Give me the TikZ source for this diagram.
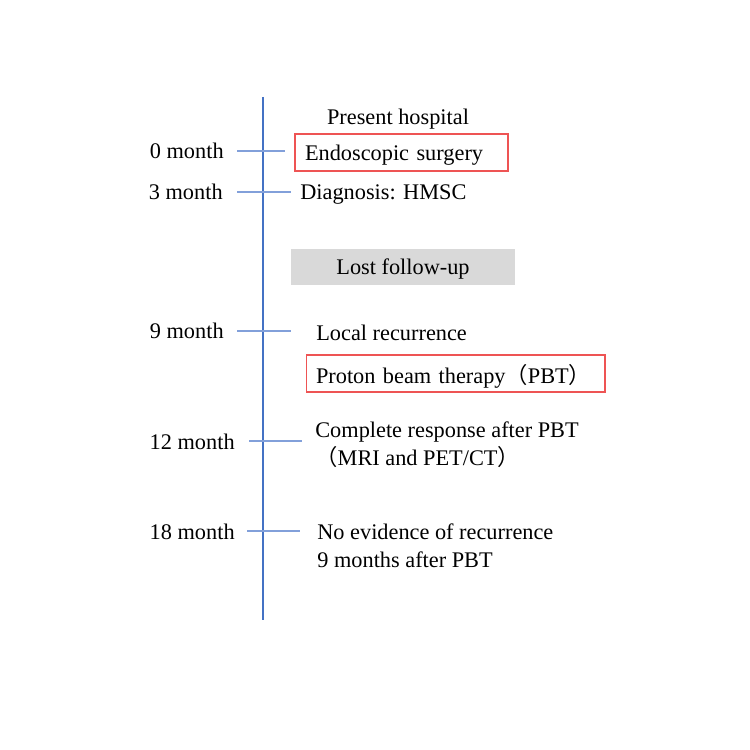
\documentclass[tikz,border=0pt]{standalone}
\usepackage{fontspec}
\setmainfont{Liberation Serif}
\newfontfamily\cjk{Noto Sans CJK JP}
\usetikzlibrary{positioning}
\definecolor{axisblue}{RGB}{68,114,196}
\definecolor{tickblue}{RGB}{130,160,218}
\definecolor{boxred}{RGB}{238,84,84}
\definecolor{lostgray}{RGB}{217,217,217}
% full-width brackets
\newcommand{\fwl}{{\cjk （}}
\newcommand{\fwr}{{\cjk ）}}

\begin{document}
\begin{tikzpicture}[x=0.02cm, y=-0.02cm,
        every node/.style={font=\fontsize{12.7}{15.9}\selectfont, inner sep=0pt},
        month/.style={anchor=east},
        event/.style={anchor=west, align=left},
        tick/.style={tickblue, line width=0.7pt},
        redbox/.style={draw=boxred, line width=0.6pt, inner xsep=0.2cm, align=left, text depth=0pt, minimum height=0.74cm},
        graybox/.style={fill=lostgray, text depth=0pt, minimum width=4.48cm, minimum height=0.72cm}
    ]
    \useasboundingbox (0,0) rectangle (750,750);

    % time axis
    \coordinate (top) at (263,97);
    \coordinate (bottom) at (263,620);
    \draw[axisblue, line width=1.6pt] (top) -- (bottom);

    % ticks
    \foreach \y/\a/\b in {151/237/285, 192/237/291, 331/237/291, 441/249/302, 531/247/300}
        \draw[tick] (\a,\y) -- (\b,\y);

    % months
    \node[month] (m0) at (224,151) {0 month};
    \node[month] (m3) at (223,192) {3 month};
    \node[month] (m9) at (224,331) {9 month};
    \node[month] (m12) at (235,442) {12 month};
    \node[month] (m18) at (235,532) {18 month};

    % events
    \node (hosp) at (398,119) {Present hospital};
    \node[redbox, text width=3.86cm] (surg) at (401.5,152.5) {Endoscopic surgery};
    \node[event] (diag) at (300,195) {Diagnosis: HMSC};
    \node[graybox] (lost) at (403,267) {Lost follow-up};
    \node[event] (recur) at (316,333) {Local recurrence};
    \node[redbox, text width=5.58cm] (pbt) at (455.5,373.5) {Proton beam therapy\fwl PBT\fwr};
    \node[event] (cr) at (315,445) {Complete response after PBT\\\fwl MRI and PET/CT\fwr};
    \node[event] (ned) at (317,546) {No evidence of recurrence\\9 months after PBT};
\end{tikzpicture}
\end{document}
